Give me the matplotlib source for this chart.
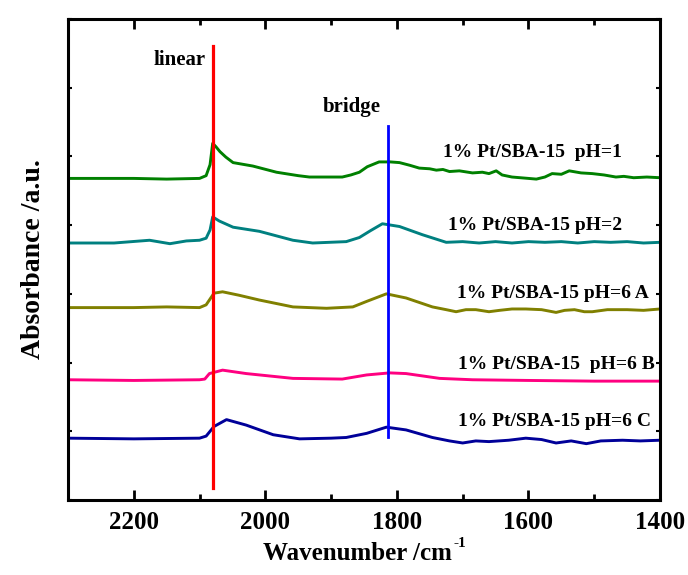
import matplotlib
matplotlib.use("Agg")
import matplotlib.pyplot as plt
from matplotlib.ticker import MultipleLocator

plt.rcParams['font.family'] = ['Liberation Serif', 'DejaVu Serif']
plt.rcParams['font.weight'] = 'bold'

# --- data (wavenumber, displayed absorbance incl. offset) ---
wn_ph1 = [2300, 2200, 2150, 2100, 2090, 2084, 2080, 2075, 2069, 2060, 2049, 2019, 1983, 1950,
          1933, 1900, 1883, 1870, 1857, 1845, 1827, 1810, 1796, 1780, 1766, 1750, 1740, 1730,
          1720, 1705, 1685, 1670, 1660, 1649, 1640, 1625, 1600, 1588, 1575, 1564, 1550, 1538,
          1520, 1503, 1485, 1467, 1455, 1440, 1420, 1400]
ab_ph1 = [4.68, 4.68, 4.67, 4.68, 4.72, 4.88, 5.19, 5.14, 5.07, 4.99, 4.91, 4.86, 4.77, 4.72,
          4.70, 4.70, 4.70, 4.73, 4.77, 4.85, 4.92, 4.92, 4.91, 4.87, 4.83, 4.82, 4.80, 4.81,
          4.78, 4.79, 4.76, 4.77, 4.75, 4.79, 4.73, 4.70, 4.68, 4.67, 4.70, 4.75, 4.74, 4.79,
          4.76, 4.75, 4.73, 4.70, 4.71, 4.69, 4.70, 4.69]

wn_ph2 = [2300, 2230, 2176, 2145, 2120, 2100, 2090, 2084, 2080, 2070, 2049, 2009, 1958, 1928,
          1877, 1857, 1840, 1822, 1796, 1761, 1725, 1700, 1675, 1650, 1625, 1600, 1575, 1550,
          1525, 1500, 1475, 1450, 1425, 1400]
ab_ph2 = [3.74, 3.74, 3.78, 3.73, 3.77, 3.78, 3.81, 3.93, 4.12, 4.06, 3.97, 3.91, 3.78, 3.74,
          3.76, 3.82, 3.92, 4.02, 3.98, 3.86, 3.75, 3.76, 3.74, 3.76, 3.74, 3.76, 3.75, 3.76,
          3.74, 3.76, 3.75, 3.76, 3.74, 3.75]

wn_ph6a = [2300, 2200, 2150, 2100, 2090, 2078, 2065, 2040, 2009, 1958, 1907, 1867, 1846, 1816,
           1796, 1786, 1746, 1725, 1710, 1695, 1680, 1660, 1644, 1625, 1604, 1580, 1558, 1545,
           1530, 1515, 1503, 1480, 1450, 1425, 1400]
ab_ph6a = [2.80, 2.80, 2.81, 2.80, 2.84, 3.01, 3.03, 2.98, 2.91, 2.81, 2.79, 2.81, 2.89, 3.00,
           2.96, 2.94, 2.81, 2.77, 2.74, 2.77, 2.77, 2.74, 2.76, 2.78, 2.78, 2.77, 2.73, 2.76,
           2.77, 2.74, 2.74, 2.77, 2.77, 2.76, 2.78]

wn_ph6b = [2300, 2200, 2100, 2092, 2085, 2065, 2029, 1958, 1883, 1846, 1811, 1786, 1735, 1685,
           1600, 1500, 1400]
ab_ph6b = [1.75, 1.74, 1.75, 1.76, 1.84, 1.89, 1.84, 1.77, 1.76, 1.82, 1.85, 1.84, 1.77, 1.75,
           1.74, 1.73, 1.73]

wn_ph6c = [2300, 2200, 2100, 2090, 2078, 2059, 2029, 1988, 1948, 1900, 1877, 1846, 1816, 1786,
           1746, 1720, 1700, 1680, 1660, 1630, 1604, 1580, 1558, 1535, 1512, 1490, 1457, 1430,
           1400]
ab_ph6c = [0.90, 0.89, 0.90, 0.93, 1.07, 1.17, 1.09, 0.95, 0.89, 0.90, 0.91, 0.97, 1.06, 1.02,
           0.91, 0.86, 0.83, 0.86, 0.85, 0.87, 0.90, 0.88, 0.83, 0.86, 0.82, 0.86, 0.87, 0.86,
           0.87]

labels = ["1% Pt/SBA-15  pH=1", "1% Pt/SBA-15 pH=2", "1% Pt/SBA-15 pH=6 A",
          "1% Pt/SBA-15  pH=6 B", "1% Pt/SBA-15 pH=6 C"]
label_x = [1594, 1590, 1562, 1557, 1560]
label_y = [5.05, 4.00, 3.01, 1.97, 1.14]
colors = ["#008000", "#008080", "#808000", "#ff0080", "#000099"]

linear_wn = 2079
bridge_wn = 1814

series = [(wn_ph1, ab_ph1), (wn_ph2, ab_ph2), (wn_ph6a, ab_ph6a),
          (wn_ph6b, ab_ph6b), (wn_ph6c, ab_ph6c)]

fig = plt.figure(figsize=(6.88, 5.75), dpi=100)
ax = fig.add_axes([0.0988, 0.1304, 0.8605, 0.8366])

for (x, y), c in zip(series, colors):
    ax.plot(x, y, color=c, lw=2.1, solid_joinstyle='round')

for lab, lx, ly in zip(labels, label_x, label_y):
    ax.text(lx, ly, lab, ha='center', va='center', fontsize=14, fontweight='bold')

ax.plot([linear_wn, linear_wn], [0.17, 6.6], color='#ff0000', lw=2.3)
ax.plot([bridge_wn, bridge_wn], [0.92, 5.44], color='#0000ff', lw=2.0)

ax.text(2130, 6.4, "linear", ha='center', va='center', fontsize=15, fontweight='bold')
ax.text(1869, 5.72, "bridge", ha='center', va='center', fontsize=15, fontweight='bold')

ax.set_xlim(2300, 1400)
ax.set_ylim(0, 7)
ax.xaxis.set_major_locator(MultipleLocator(200))
ax.xaxis.set_minor_locator(MultipleLocator(100))
ax.yaxis.set_major_locator(MultipleLocator(1))
ax.set_yticklabels([])
ax.tick_params(axis='x', which='major', direction='in', length=7, width=2, labelsize=18,
               top=True, pad=8)
ax.tick_params(axis='x', which='minor', direction='in', length=4, width=2, top=True)
ax.tick_params(axis='y', which='major', direction='in', length=3, width=1.5, right=True)
for lbl in ax.get_xticklabels():
    lbl.set_fontweight('bold')
for s in ax.spines.values():
    s.set_linewidth(2.2)

ax.set_xlabel("Wavenumber /cm", fontsize=18, fontweight='bold', labelpad=6)
ax.xaxis.label.set_x(0.489)
ax.annotate("-1", xy=(1, 1), xycoords=ax.xaxis.label, xytext=(1, 4),
            textcoords='offset points', ha='left', va='top', fontsize=11, fontweight='bold')
ax.set_ylabel("Absorbance /a.u.", fontsize=20, fontweight='bold', labelpad=12)

fig.savefig("out.png", dpi=100)
